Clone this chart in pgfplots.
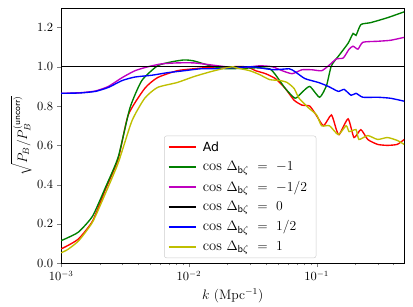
\documentclass[border=0pt]{standalone}
\usepackage{pgfplots}
\pgfplotsset{compat=1.18}
\usepackage{fontspec}
\newfontfamily\dvs{DejaVu Sans}
\definecolor{mplg}{rgb}{0,0.5,0}
\definecolor{mplm}{rgb}{0.75,0,0.75}
\definecolor{mply}{rgb}{0.75,0.75,0}
\newcommand{\cd}[1]{$\cos\,\Delta_{\mathsf{b}\zeta}\mkern6mu=\mkern6mu#1$}
\begin{document}
\begin{tikzpicture}
\begin{axis}[
  scale only axis,
  width=299.6bp, height=223bp,
  xmin=-3, xmax=-0.315, ymin=0, ymax=1.3,
  xtick={-3,-2,-1},
  xticklabels={$10^{-3}$,$10^{-2}$,$10^{-1}$},
  minor xtick={-2.699,-2.523,-2.398,-2.301,-2.222,-2.155,-2.097,-2.046,
               -1.699,-1.523,-1.398,-1.301,-1.222,-1.155,-1.097,-1.046,
               -0.699,-0.523,-0.398},
  ytick={0,0.2,0.4,0.6,0.8,1.0,1.2},
  yticklabel style={/pgf/number format/.cd,fixed,fixed zerofill,precision=1},
  tick label style={font=\fontsize{10.5}{12}\selectfont},
  label style={font=\fontsize{12}{14}\selectfont},
  tick align=outside, xtick pos=bottom, ytick pos=left,
  major tick length=3.5bp, minor tick length=2bp,
  xlabel={$k$ (Mpc$^{-1}$)},
  ylabel={$\sqrt{P_B/P_B^{(\mathsf{uncorr})}}$},
  ylabel style={yshift=-2bp},
  legend style={at={(0.30,0.02)},anchor=south west,draw=black!20,rounded corners=2pt,
    fill=white,fill opacity=0.8,text opacity=1,draw opacity=1,row sep=3.4pt,inner sep=3pt,
    font=\fontsize{12.8}{14}\selectfont,
    nodes={inner xsep=5pt}},
  legend cell align=left,
  legend image code/.code={\draw[#1,opacity=1,line width=1.6pt] (0cm,0cm) -- (0.85cm,0cm);},
  every axis plot/.append style={line width=1.2pt, smooth, tension=0.35},
]
\coordinate (ne) at (rel axis cs:1,1);
\addplot[red] coordinates {
(-3,0.073)(-2.948,0.09)(-2.862,0.125)(-2.754,0.215)(-2.654,0.375)(-2.554,0.53)
(-2.475,0.755)(-2.346,0.89)(-2.246,0.945)(-2.092,0.98)(-1.962,0.99)(-1.831,0.998)
(-1.708,1.0)(-1.55,1.0)(-1.477,0.98)(-1.4,0.965)(-1.323,0.94)(-1.246,0.89)(-1.177,0.83)
(-1.115,0.805)(-1.054,0.80)(-1.0,0.75)(-0.946,0.70)(-0.885,0.755)(-0.846,0.68)
(-0.823,0.655)(-0.754,0.735)(-0.708,0.64)(-0.654,0.68)(-0.6,0.63)(-0.523,0.605)
(-0.446,0.60)(-0.369,0.605)(-0.315,0.63)};
\addlegendentry{{\dvs\fontsize{11}{13}\selectfont Ad}}
\addplot[mplg] coordinates {
(-3,0.115)(-2.948,0.13)(-2.862,0.16)(-2.754,0.24)(-2.654,0.385)(-2.554,0.54)
(-2.462,0.79)(-2.369,0.93)(-2.246,1.005)(-2.138,1.025)(-2.038,1.035)(-1.962,1.03)
(-1.831,1.005)(-1.708,0.99)(-1.477,0.995)(-1.369,0.99)(-1.323,0.96)(-1.246,0.89)
(-1.169,0.84)(-1.115,0.87)(-1.054,0.90)(-0.977,0.845)(-0.923,0.905)(-0.885,1.005)
(-0.823,1.06)(-0.754,1.12)(-0.715,1.17)(-0.692,1.16)(-0.654,1.215)(-0.577,1.225)
(-0.446,1.25)(-0.315,1.28)};
\addlegendentry{\cd{-1}}
\addplot[mplm] coordinates {
(-3,0.865)(-2.85,0.868)(-2.731,0.877)(-2.631,0.9)(-2.523,0.945)(-2.423,0.98)
(-2.323,1.0)(-2.215,1.015)(-2.092,1.02)(-1.962,1.02)(-1.831,1.01)(-1.708,1.0)
(-1.6,0.995)(-1.446,1.005)(-1.346,1.0)(-1.269,0.98)(-1.192,0.965)(-1.115,0.985)
(-1.038,0.985)(-0.962,0.98)(-0.908,1.005)(-0.846,1.04)(-0.792,1.045)(-0.746,1.09)
(-0.715,1.105)(-0.677,1.09)(-0.638,1.125)(-0.523,1.13)(-0.423,1.135)(-0.315,1.15)};
\addlegendentry{\cd{-1/2}}
\addplot[black] coordinates {(-3,1.0)(-0.315,1.0)};
\addlegendentry{\cd{0}}
\addplot[blue] coordinates {
(-3,0.865)(-2.85,0.867)(-2.731,0.875)(-2.631,0.895)(-2.523,0.93)(-2.423,0.948)
(-2.292,0.957)(-2.169,0.97)(-2.038,0.98)(-1.908,0.99)(-1.785,0.99)(-1.677,0.995)
(-1.5,1.0)(-1.4,0.99)(-1.323,0.985)(-1.215,0.99)(-1.169,0.975)(-1.092,0.94)
(-0.985,0.92)(-0.908,0.90)(-0.831,0.875)(-0.785,0.885)(-0.731,0.855)(-0.692,0.865)
(-0.638,0.845)(-0.523,0.845)(-0.423,0.84)(-0.315,0.825)};
\addlegendentry{\cd{1/2}}
\addplot[mply] coordinates {
(-3,0.053)(-2.948,0.07)(-2.862,0.115)(-2.754,0.21)(-2.654,0.355)(-2.554,0.51)
(-2.446,0.725)(-2.346,0.84)(-2.246,0.895)(-2.092,0.92)(-1.962,0.95)(-1.831,0.975)
(-1.708,0.995)(-1.654,1.0)(-1.631,0.995)(-1.523,0.98)(-1.446,0.96)(-1.369,0.935)
(-1.285,0.93)(-1.231,0.92)(-1.177,0.89)(-1.138,0.84)(-1.062,0.79)(-1.0,0.755)
(-0.962,0.70)(-0.9,0.70)(-0.831,0.655)(-0.769,0.70)(-0.746,0.67)(-0.692,0.68)
(-0.669,0.63)(-0.6,0.65)(-0.523,0.63)(-0.446,0.64)(-0.369,0.625)(-0.315,0.605)};
\addlegendentry{\cd{1}}
\end{axis}
\path (ne) ++(7.7bp,6.9bp);
\path (current bounding box.west) ++(-6bp,0);
\end{tikzpicture}
\end{document}
